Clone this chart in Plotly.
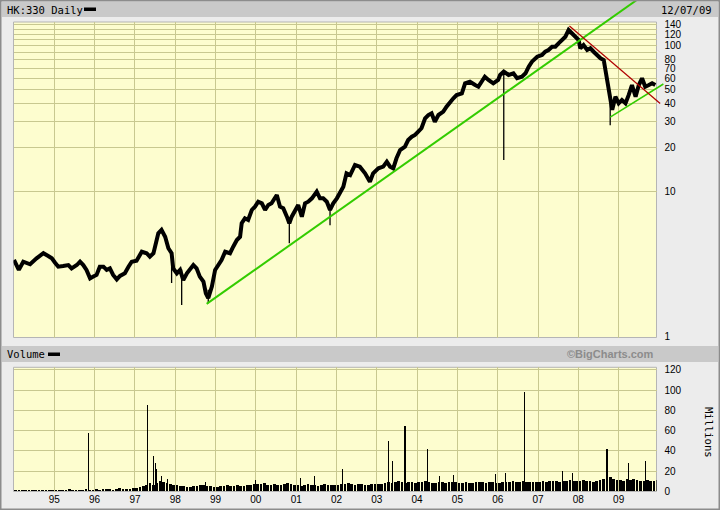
import datetime as dt
import plotly.graph_objects as go

# ---------------- data ----------------
# price path (decimal year, HK$) - HK:330 daily, log scale
price_t = [1994.00, 1994.12, 1994.23, 1994.40, 1994.56, 1994.73, 1994.85, 1994.94,
           1995.02, 1995.10, 1995.22, 1995.35, 1995.43, 1995.56, 1995.64, 1995.72,
           1995.80, 1995.89, 1995.97, 1996.05, 1996.13, 1996.22, 1996.30, 1996.38,
           1996.46, 1996.55, 1996.63, 1996.75, 1996.84, 1996.92, 1997.04, 1997.17,
           1997.29, 1997.37, 1997.46, 1997.54, 1997.58, 1997.66, 1997.75, 1997.83,
           1997.91, 1997.95, 1998.04, 1998.12, 1998.20, 1998.29, 1998.37, 1998.45,
           1998.53, 1998.61, 1998.70, 1998.76, 1998.82, 1998.91, 1998.99, 1999.07,
           1999.15, 1999.24, 1999.36, 1999.44, 1999.53, 1999.61, 1999.65, 1999.73,
           1999.81, 1999.90, 1999.98, 2000.06, 2000.15, 2000.23, 2000.31, 2000.39,
           2000.48, 2000.52, 2000.60, 2000.68, 2000.77, 2000.83, 2000.89, 2000.97,
           2001.05, 2001.14, 2001.22, 2001.30, 2001.39, 2001.51, 2001.59, 2001.67,
           2001.76, 2001.84, 2001.92, 2002.01, 2002.09, 2002.17, 2002.25, 2002.34,
           2002.46, 2002.58, 2002.71, 2002.83, 2002.91, 2003.04, 2003.16, 2003.25,
           2003.33, 2003.41, 2003.49, 2003.58, 2003.70, 2003.78, 2003.87, 2003.95,
           2004.03, 2004.11, 2004.20, 2004.28, 2004.36, 2004.44, 2004.53, 2004.65,
           2004.73, 2004.82, 2004.90, 2004.98, 2005.11, 2005.19, 2005.31, 2005.44,
           2005.52, 2005.60, 2005.68, 2005.77, 2005.89, 2006.01, 2006.06, 2006.15,
           2006.27, 2006.39, 2006.48, 2006.60, 2006.69, 2006.77, 2006.85, 2006.98,
           2007.10, 2007.18, 2007.26, 2007.35, 2007.43, 2007.51, 2007.60, 2007.68,
           2007.76, 2007.84, 2007.93, 2008.01, 2008.05, 2008.13, 2008.22, 2008.30,
           2008.38, 2008.46, 2008.55, 2008.63, 2008.67, 2008.71, 2008.75, 2008.79,
           2008.84, 2008.92, 2009.00, 2009.08, 2009.17, 2009.25, 2009.33, 2009.42,
           2009.50, 2009.58, 2009.66, 2009.75, 2009.83, 2009.91]
price_v = [3.37, 2.88, 3.28, 3.15, 3.46, 3.75, 3.59, 3.46,
           3.23, 3.03, 3.06, 3.11, 2.95, 3.11, 3.28, 3.11,
           2.88, 2.52, 2.59, 2.66, 3.03, 3.03, 2.88, 2.95,
           2.66, 2.48, 2.62, 2.73, 3.03, 3.28, 3.33, 3.84,
           3.75, 3.55, 3.75, 4.50, 5.14, 5.42, 4.87, 4.06,
           3.75, 2.95, 2.73, 2.88, 2.45, 2.73, 2.95, 3.11,
           2.95, 2.59, 2.39, 1.99, 1.84, 2.21, 2.88, 3.11,
           3.37, 3.84, 3.75, 4.16, 4.62, 4.87, 6.03, 6.52,
           6.35, 7.44, 7.84, 8.48, 8.27, 7.44, 8.05, 8.27,
           8.95, 9.43, 7.84, 7.64, 6.69, 6.03, 6.69, 7.44,
           8.05, 6.69, 8.27, 8.48, 8.95, 9.94, 8.95, 8.95,
           8.48, 7.44, 8.27, 8.95, 9.69, 10.75, 13.30, 12.94,
           15.17, 14.77, 13.30, 11.64, 13.30, 14.39, 14.77, 15.98,
           14.77, 14.39, 16.87, 19.24, 20.27, 22.53, 23.74, 24.39,
           25.70, 27.13, 31.78, 33.48, 34.40, 30.11, 33.48, 35.28,
           38.19, 41.33, 43.62, 45.96, 47.21, 55.3, 56.7, 53.8,
           52.4, 56.7, 61.4, 58.3, 55.3, 58.3, 63.1, 66.5,
           63.1, 64.8, 59.9, 61.4, 64.8, 71.9, 77.9, 84.3,
           86.6, 91.2, 93.7, 98.7, 98.7, 104.2, 109.8, 115.7,
           128.7, 122.1, 115.7, 109.8, 96.3, 101.4, 93.7, 96.3,
           91.2, 86.6, 82.2, 80.0, 68.3, 56.7, 47.2, 40.3,
           36.3, 44.7, 40.3, 42.5, 40.3, 46.0, 53.8, 44.7,
           53.8, 59.9, 52.4, 53.8, 55.3, 53.8]

# single-day high/low bars that stick out of the band
spike_t = [1997.91, 1998.16, 1998.82, 2000.83, 2001.84, 2006.15, 2008.79]
spike_hi = [3.6, 2.9, 2.1, 6.6, 8.0, 68.0, 40.0]
spike_lo = [2.34, 1.65, 1.70, 4.39, 5.85, 16.4, 28.5]

# trend lines drawn on the chart
green1_t = [1998.78, 2009.45]
green1_v = [1.68, 207.0]
green2_t = [2008.79, 2010.11]
green2_v = [32.4, 54.7]
red_t = [2007.78, 2010.03]
red_v = [137.1, 40.2]

# monthly volume (millions), Jan 1994 .. Dec 2009
vol_start_year = 1994
vol_base = [1, 1, 1.5, 1, 1, 1, 1.5, 1, 1, 1.5, 1, 1,
            1.5, 1, 1.5, 1, 2, 1, 1.5, 1, 1, 2, 1.5, 1,
            2, 1.5, 2, 2.5, 2, 1.5, 2, 3, 2, 2.5, 2, 3,
            3, 4, 5, 6, 8, 6, 8, 10, 9, 8, 7, 6,
            6, 5, 5, 4, 4, 5, 5, 6, 6, 5, 5, 4,
            4, 5, 5, 6, 5, 5, 6, 5, 5, 6, 6, 7,
            7, 7, 8, 6, 6, 7, 6, 6, 7, 8, 7, 6,
            6, 5, 6, 7, 6, 6, 5, 6, 7, 6, 6, 6,
            6, 7, 7, 8, 7, 6, 7, 7, 6, 6, 7, 7,
            7, 7, 8, 9, 8, 9, 10, 9, 8, 9, 9, 8,
            9, 9, 10, 9, 8, 8, 9, 9, 8, 9, 9, 9,
            8, 8, 9, 8, 8, 9, 9, 9, 8, 9, 9, 8,
            8, 9, 9, 9, 10, 9, 9, 10, 9, 9, 9, 9,
            9, 10, 9, 10, 10, 10, 9, 10, 10, 11, 10, 10,
            10, 11, 10, 10, 9, 10, 11, 12, 13, 14, 12, 11,
            11, 10, 12, 11, 12, 11, 10, 10, 11, 10, 10, 11]
vol_spike_t = [1995.84, 1997.32, 1997.46, 1997.50, 1997.53, 1997.66, 1997.80,
               1998.75, 2000.00, 2001.10, 2001.45, 2002.16, 2003.30,
               2003.38, 2003.70, 2004.25, 2004.55, 2004.90, 2005.95, 2006.20,
               2006.66, 2007.60, 2007.85, 2008.71, 2009.25, 2009.67]
vol_spike_v = [58, 85, 35, 28, 22, 15, 12, 9, 11, 13, 15, 22, 50,
               30, 65, 42, 15, 16, 17, 18, 98, 20, 18, 42, 28, 30]

price_tickvals = [1, 10, 20, 30, 40, 50, 60, 70, 80, 90, 100, 110, 120, 130, 140]
price_ticktext = ['1', '10', '20', '30', '40', '50', '60', '70', '80', '', '100', '', '120', '', '140']
vol_tickvals = [0, 20, 40, 60, 80, 100, 120]
year_ticks = list(range(1995, 2010))
year_labels = ['%02d' % (y % 100) for y in year_ticks]

# ---------------- helpers / layout geometry ----------------
W, H = 720, 510


def dec2date(y):
    yr = int(y)
    a = dt.datetime(yr, 1, 1)
    b = dt.datetime(yr + 1, 1, 1)
    return a + (b - a) * (y - yr)


def px_x(p):
    return p / W


def px_y(p):
    return 1 - p / H


# price panel in pixels
PL, PR, PT, PB = 13.5, 656.5, 22.0, 337.5
# volume panel
VT, VB = 367.3, 491.5
# x scale: decimal years of panel edges
X0, X1 = 1993.988, 2009.939
# y log range of price panel
YL0, YL1 = -0.0055, 2.1644

# extended overlay area for trend lines (they run past the panel)
EXR, EXT = 665.0, 0.0
xpp = (X1 - X0) / (PR - PL)
ypp = (YL1 - YL0) / (PB - PT)
EX1 = X1 + (EXR - PR) * xpp
EY1 = YL1 + (PT - EXT) * ypp

GRID = '#c8c890'
BG = '#fdfdcf'
TICKFONT = dict(family='Liberation Sans', size=10, color='#000')

fig = go.Figure()

# price band
fig.add_trace(go.Scatter(x=[dec2date(t) for t in price_t], y=price_v, mode='lines',
                         line=dict(color='black', width=4), xaxis='x', yaxis='y',
                         hoverinfo='skip'))
sx, sy = [], []
for t, hi, lo in zip(spike_t, spike_hi, spike_lo):
    sx += [dec2date(t), dec2date(t), None]
    sy += [hi, lo, None]
fig.add_trace(go.Scatter(x=sx, y=sy, mode='lines', line=dict(color='black', width=1.3),
                         xaxis='x', yaxis='y', hoverinfo='skip'))

# volume
vol_x = [dec2date(vol_start_year + (i + 0.5) / 12) for i in range(len(vol_base))]
fig.add_trace(go.Bar(x=vol_x, y=vol_base, width=24 * 86400000, marker=dict(color='black', line=dict(width=0)),
                     xaxis='x2', yaxis='y2', hoverinfo='skip'))
fig.add_trace(go.Bar(x=[dec2date(t) for t in vol_spike_t], y=vol_spike_v, width=10 * 86400000,
                     marker=dict(color='black', line=dict(width=0)), xaxis='x2', yaxis='y2', hoverinfo='skip'))

# trend lines on extended overlay axes
fig.add_trace(go.Scatter(x=[dec2date(t) for t in green1_t], y=green1_v, mode='lines',
                         line=dict(color='#33cc00', width=2), xaxis='x3', yaxis='y3', hoverinfo='skip'))
fig.add_trace(go.Scatter(x=[dec2date(t) for t in green2_t], y=green2_v, mode='lines',
                         line=dict(color='#33cc00', width=1.5), xaxis='x3', yaxis='y3', hoverinfo='skip'))
fig.add_trace(go.Scatter(x=[dec2date(t) for t in red_t], y=red_v, mode='lines',
                         line=dict(color='#b00000', width=1.2), xaxis='x3', yaxis='y3', hoverinfo='skip'))

shapes = [
    # header bars
    dict(type='rect', xref='paper', yref='paper', x0=px_x(2), x1=px_x(718), y0=px_y(17), y1=px_y(2),
         fillcolor='#c9c9c9', line=dict(width=0), layer='below'),
    dict(type='rect', xref='paper', yref='paper', x0=px_x(2), x1=px_x(718), y0=px_y(362), y1=px_y(346),
         fillcolor='#c9c9c9', line=dict(width=0), layer='below'),
    # panel backgrounds
    dict(type='rect', xref='paper', yref='paper', x0=px_x(PL), x1=px_x(PR), y0=px_y(PB), y1=px_y(PT),
         fillcolor=BG, line=dict(color='#b5b5b5', width=1), layer='below'),
    dict(type='rect', xref='paper', yref='paper', x0=px_x(PL), x1=px_x(PR), y0=px_y(VB), y1=px_y(VT),
         fillcolor=BG, line=dict(color='#b5b5b5', width=1), layer='below'),
    # legend swatches
    dict(type='rect', xref='paper', yref='paper', x0=px_x(84), x1=px_x(96), y0=px_y(11), y1=px_y(7.5),
         fillcolor='black', line=dict(width=0)),
    dict(type='rect', xref='paper', yref='paper', x0=px_x(48), x1=px_x(60), y0=px_y(356), y1=px_y(352.5),
         fillcolor='black', line=dict(width=0)),
    # outer frame
    dict(type='rect', xref='paper', yref='paper', x0=0, x1=1, y0=0, y1=1,
         line=dict(color='#8c8c8c', width=3), fillcolor='rgba(0,0,0,0)'),
]

MONO = dict(family='DejaVu Sans Mono', size=10.5, color='#000')
annotations = [
    dict(text='HK:330 Daily', xref='paper', yref='paper', x=px_x(5), y=px_y(9.5), xanchor='left',
         yanchor='middle', showarrow=False, font=MONO),
    dict(text='12/07/09', xref='paper', yref='paper', x=px_x(714), y=px_y(9.5), xanchor='right',
         yanchor='middle', showarrow=False, font=MONO),
    dict(text='Volume', xref='paper', yref='paper', x=px_x(5), y=px_y(354), xanchor='left',
         yanchor='middle', showarrow=False, font=MONO),
    dict(text='<b>©BigCharts.com</b>', xref='paper', yref='paper', x=px_x(656), y=px_y(354), xanchor='right',
         yanchor='middle', showarrow=False, font=dict(family='Liberation Sans', size=11, color='#8c8c8c')),
    dict(text='Millions', xref='paper', yref='paper', x=px_x(709), y=px_y(432), xanchor='center',
         yanchor='middle', showarrow=False, textangle=90, font=MONO),
]

fig.update_layout(
    width=W, height=H, margin=dict(l=0, r=0, t=0, b=0, autoexpand=False),
    paper_bgcolor='#ececec', plot_bgcolor='rgba(0,0,0,0)',
    showlegend=False, barmode='overlay', bargap=0,
    shapes=shapes, annotations=annotations,
    xaxis=dict(domain=[px_x(PL), px_x(PR)], type='date', range=[dec2date(X0), dec2date(X1)],
               anchor='y', showticklabels=False, showgrid=True, gridcolor=GRID, gridwidth=1,
               tickmode='array', tickvals=[dt.datetime(y, 1, 1) for y in year_ticks],
               zeroline=False, showline=False, ticks='', automargin=False),
    yaxis=dict(domain=[px_y(PB), px_y(PT)], type='log', range=[YL0, YL1], anchor='x', side='right',
               tickmode='array', tickvals=price_tickvals, ticktext=price_ticktext,
               showgrid=True, gridcolor=GRID, gridwidth=1, zeroline=False, showline=False,
               ticks='outside', ticklen=5, tickcolor='rgba(0,0,0,0)', tickfont=TICKFONT, automargin=False),
    xaxis2=dict(domain=[px_x(PL), px_x(PR)], type='date', matches='x', anchor='y2',
                tickmode='array', tickvals=[dt.datetime(y, 1, 1) for y in year_ticks], ticktext=year_labels,
                showgrid=True, gridcolor=GRID,
                gridwidth=1, zeroline=False, showline=False, ticks='',
                tickfont=TICKFONT, automargin=False),
    yaxis2=dict(domain=[px_y(VB), px_y(VT)], range=[0, 122.5], anchor='x2', side='right',
                tickmode='array', tickvals=vol_tickvals, showgrid=True, gridcolor=GRID, gridwidth=1,
                zeroline=False, showline=False, ticks='outside', ticklen=5,
                tickcolor='rgba(0,0,0,0)', tickfont=TICKFONT, automargin=False),
    xaxis3=dict(domain=[px_x(PL), px_x(EXR)], type='date', range=[dec2date(X0), dec2date(EX1)],
                anchor='y3', visible=False, automargin=False),
    yaxis3=dict(domain=[px_y(PB), px_y(EXT)], type='log', range=[YL0, EY1], anchor='x3', visible=False,
                automargin=False),
)

fig.write_html('out.html', config={'displayModeBar': False, 'staticPlot': True},
               post_script="document.body.style.margin='0px';document.body.style.padding='0px';"
                           "document.body.style.overflow='hidden';")
